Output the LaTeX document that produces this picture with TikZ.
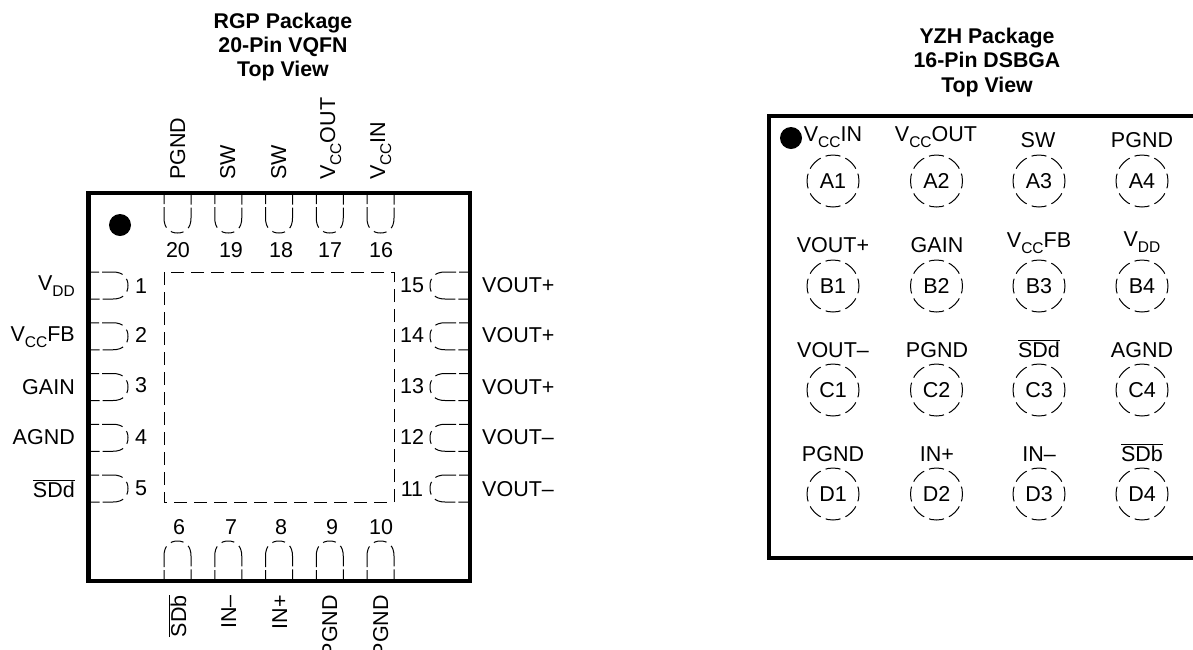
\documentclass[tikz,border=0pt]{standalone}
\usepackage{fontspec}
\setmainfont{Liberation Sans}
\newcommand{\subs}[1]{\raisebox{-6pt}{\fontsize{15.5}{15.5}\selectfont #1}}
\newcommand{\lowact}[1]{$\overline{\mbox{#1}}$}
\tikzset{
  pinline/.style={line width=1pt,dash pattern=on 11pt off 3pt on 21pt off 6pt on 13pt off 6pt on 21pt off 3pt on 11pt},
  padline/.style={line width=1pt,dash pattern=on 15pt off 5.4pt,dash phase=7.5pt},
  pads/.style={line width=1pt,dash pattern=on 13pt off 7pt},
  frameline/.style={line width=4.2pt},
  dotmark/.style={circle,fill=black,minimum size=22pt,inner sep=0pt},
  pics/vpin/.style={code={
    \draw[pinline] (-13.5,0) -- (-13.5,25) .. controls (-13.5,35) and (-8,40) .. (0,40)
      .. controls (8,40) and (13.5,35) .. (13.5,25) -- (13.5,0);}},
  pics/hpin/.style={code={
    \draw[pinline] (0,-13.5) -- (25,-13.5) .. controls (35,-13.5) and (40,-8) .. (40,0)
      .. controls (40,8) and (35,13.5) .. (25,13.5) -- (0,13.5);}}
}
\begin{document}
\begin{tikzpicture}[x=1pt,y=-1pt,inner sep=0pt,font=\fontsize{21.5}{24}\selectfont]
  \useasboundingbox (0,0) rectangle (1193,649);
  % titles
  \begin{scope}[every node/.style={anchor=base,font=\fontsize{21.3}{24}\selectfont\bfseries}]
    \draw
      (283,28) node (rgp1){RGP Package}
      (283,52) node (rgp2){20-Pin VQFN}
      (283,76) node (rgp3){Top View}
      (987,43) node (yzh1){YZH Package}
      (987,67) node (yzh2){16-Pin DSBGA}
      (987,92) node (yzh3){Top View};
  \end{scope}
  % RGP pins
  \pic at (177.5,193) {vpin};
  \pic at (228.25,193) {vpin};
  \pic at (279,193) {vpin};
  \pic at (329.75,193) {vpin};
  \pic at (380.5,193) {vpin};
  \pic[yscale=-1] at (177.5,581) {vpin};
  \pic[yscale=-1] at (228.25,581) {vpin};
  \pic[yscale=-1] at (279,581) {vpin};
  \pic[yscale=-1] at (329.75,581) {vpin};
  \pic[yscale=-1] at (380.5,581) {vpin};
  \pic at (88,285.5) {hpin};
  \pic at (88,336.25) {hpin};
  \pic at (88,387) {hpin};
  \pic at (88,437.75) {hpin};
  \pic at (88,488.5) {hpin};
  \pic[xscale=-1] at (470,285.5) {hpin};
  \pic[xscale=-1] at (470,336.25) {hpin};
  \pic[xscale=-1] at (470,387) {hpin};
  \pic[xscale=-1] at (470,437.75) {hpin};
  \pic[xscale=-1] at (470,488.5) {hpin};
  \draw[pads] (164,272) rectangle (394,502);
  \draw[frameline] (88.5,193) rectangle (470,581);
  \node[dotmark] (rgpdot) at (120,225) {};
  % RGP pin numbers
  \begin{scope}[every node/.style={anchor=base}]
    \draw
      (141,293) node (n1){1}
      (141,342) node (n2){2}
      (141,392) node (n3){3}
      (141,444) node (n4){4}
      (141,495) node (n5){5}
      (179,534) node (n6){6}
      (231,534) node (n7){7}
      (281,534) node (n8){8}
      (332,534) node (n9){9}
      (381,534) node (n10){10}
      (412,496) node (n11){11}
      (412,444) node (n12){12}
      (412,393) node (n13){13}
      (412,342) node (n14){14}
      (412,292) node (n15){15}
      (381,257) node (n16){16}
      (330,257) node (n17){17}
      (281,257) node (n18){18}
      (231,257) node (n19){19}
      (178,257) node (n20){20};
  \end{scope}
  % RGP signal names
  \begin{scope}[every node/.style={anchor=base east}]
    \draw
      (75,290) node (l1){V\subs{DD}}
      (75,341) node (l2){V\subs{CC}FB}
      (75,394) node (l3){GAIN}
      (75,444) node (l4){AGND}
      (75,497) node (l5){\lowact{SDd}};
  \end{scope}
  \begin{scope}[every node/.style={anchor=base west}]
    \draw
      (482,292) node (l15){VOUT+}
      (482,342) node (l14){VOUT+}
      (482,394) node (l13){VOUT+}
      (482,444) node (l12){VOUT--}
      (482,496) node (l11){VOUT--};
  \end{scope}
  \begin{scope}[every node/.style={anchor=base west,rotate=90}]
    \draw
      (185,180) node (l20){PGND}
      (235,180) node (l19){SW}
      (286,180) node (l18){SW}
      (335,180) node (l17){V\subs{CC}OUT}
      (385,180) node (l16){V\subs{CC}IN};
  \end{scope}
  \begin{scope}[every node/.style={anchor=base east,rotate=90}]
    \draw
      (186,595) node (l6){\lowact{SDb}}
      (236,595) node (l7){IN--}
      (287,595) node (l8){IN+}
      (337,595) node (l9){PGND}
      (388,595) node (l10){PGND};
  \end{scope}
  % YZH frame
  \draw[frameline] (1195,116) -- (769,116) -- (769,558) -- (1195,558);
  \node[dotmark] (yzhdot) at (791,138) {};
  % YZH balls
  \begin{scope}[every node/.style={circle,minimum size=52pt,inner sep=0pt,padline,draw}]
    \node (A1) at (833,181) {A1};
    \node (A2) at (936.5,181) {A2};
    \node (A3) at (1039,181) {A3};
    \node (A4) at (1142,181) {A4};
    \node (B1) at (833,286) {B1};
    \node (B2) at (936.5,286) {B2};
    \node (B3) at (1039,286) {B3};
    \node (B4) at (1142,286) {B4};
    \node (C1) at (833,390) {C1};
    \node (C2) at (936.5,390) {C2};
    \node (C3) at (1039,390) {C3};
    \node (C4) at (1142,390) {C4};
    \node (D1) at (833,494) {D1};
    \node (D2) at (936.5,494) {D2};
    \node (D3) at (1039,494) {D3};
    \node (D4) at (1142,494) {D4};
  \end{scope}
  % YZH signal names
  \begin{scope}[every node/.style={anchor=base}]
    \draw
      (833,141) node (tA1){V\subs{CC}IN}
      (936,141) node (tA2){V\subs{CC}OUT}
      (1038,147) node (tA3){SW}
      (1142,147) node (tA4){PGND}
      (833,252) node (tB1){VOUT+}
      (937,252) node (tB2){GAIN}
      (1039,247) node (tB3){V\subs{CC}FB}
      (1142,246) node (tB4){V\subs{DD}}
      (833,357) node (tC1){VOUT--}
      (937,357) node (tC2){PGND}
      (1039,357) node (tC3){\lowact{SDd}}
      (1142,357) node (tC4){AGND}
      (833,461) node (tD1){PGND}
      (937,461) node (tD2){IN+}
      (1039,461) node (tD3){IN--}
      (1142,461) node (tD4){\lowact{SDb}};
  \end{scope}
\end{tikzpicture}
\end{document}
